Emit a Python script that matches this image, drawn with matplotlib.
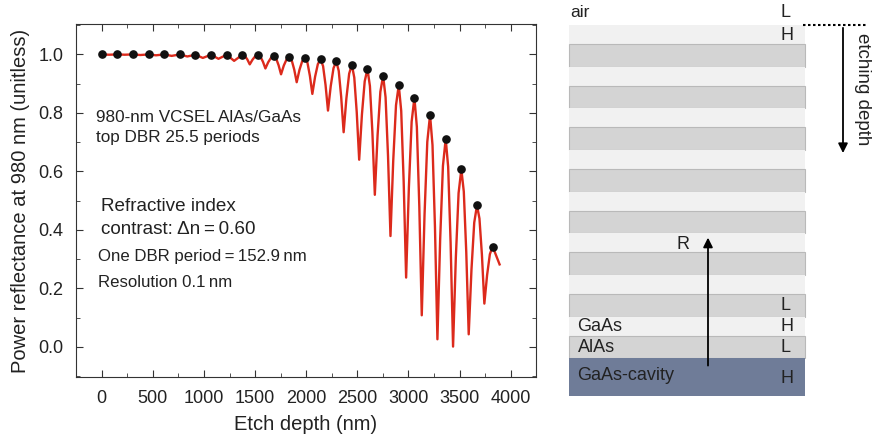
import matplotlib
matplotlib.use('Agg')
import matplotlib.pyplot as plt
from matplotlib.patches import Rectangle
from matplotlib.ticker import MultipleLocator, FormatStrFormatter

plt.rcParams['font.family'] = ['Liberation Sans', 'DejaVu Sans']

# reflectance after each whole DBR period etched (black dots)
period_depth = [0, 153, 306, 459, 612, 765, 917, 1070, 1223, 1376, 1529, 1682, 1835,
                1988, 2141, 2294, 2446, 2599, 2752, 2905, 3058, 3211, 3364, 3517, 3670, 3823]
period_refl = [1.000, 1.000, 1.000, 1.000, 1.000, 1.000, 0.999, 0.999, 0.999, 0.999,
               0.998, 0.994, 0.991, 0.988, 0.983, 0.976, 0.965, 0.950, 0.927, 0.895,
               0.852, 0.793, 0.711, 0.607, 0.484, 0.343]

# full reflectance trace vs etch depth (red line)
curve_depth = [0, 72, 153, 225, 306, 378, 459, 531, 612, 684, 765, 837, 917, 989, 1070,
               1142, 1223, 1295, 1376,
               1400, 1424, 1448, 1475, 1502, 1529,
               1553, 1577, 1601, 1628, 1655, 1682,
               1706, 1730, 1754, 1781, 1808, 1835,
               1859, 1883, 1907, 1934, 1961, 1988,
               2012, 2036, 2060, 2087, 2114, 2141,
               2165, 2189, 2213, 2240, 2267, 2294,
               2318, 2342, 2366, 2393, 2420, 2446,
               2470, 2494, 2518, 2545, 2572, 2599,
               2623, 2647, 2671, 2698, 2725, 2752,
               2776, 2800, 2824, 2851, 2878, 2905,
               2929, 2953, 2977, 3004, 3031, 3058,
               3082, 3106, 3130, 3157, 3184, 3211,
               3235, 3259, 3283, 3310, 3337, 3364,
               3388, 3412, 3436, 3463, 3490, 3517,
               3541, 3565, 3589, 3616, 3643, 3670,
               3694, 3718, 3742, 3769, 3796, 3823,
               3891]
curve_refl = [1.000, 0.999, 1.000, 0.999, 1.000, 0.998, 1.000, 0.997, 1.000, 0.995,
              1.000, 0.993, 0.999, 0.988, 0.999, 0.985, 0.999, 0.978, 0.999,
              0.995, 0.983, 0.966, 0.982, 0.994, 0.998,
              0.992, 0.975, 0.952, 0.973, 0.988, 0.994,
              0.986, 0.963, 0.932, 0.962, 0.983, 0.991,
              0.979, 0.948, 0.905, 0.947, 0.977, 0.988,
              0.972, 0.927, 0.865, 0.924, 0.967, 0.983,
              0.960, 0.896, 0.808, 0.892, 0.953, 0.976,
              0.944, 0.855, 0.734, 0.850, 0.934, 0.965,
              0.921, 0.803, 0.640, 0.795, 0.908, 0.950,
              0.892, 0.735, 0.520, 0.724, 0.872, 0.927,
              0.854, 0.653, 0.379, 0.637, 0.826, 0.895,
              0.807, 0.566, 0.237, 0.545, 0.770, 0.852,
              0.752, 0.480, 0.108, 0.451, 0.701, 0.793,
              0.690, 0.410, 0.026, 0.369, 0.619, 0.711,
              0.616, 0.356, 0.001, 0.304, 0.526, 0.607,
              0.531, 0.325, 0.043, 0.264, 0.425, 0.484,
              0.439, 0.316, 0.148, 0.246, 0.317, 0.343,
              0.282]

# layer stack for the schematic (nm), top to bottom
n_periods = 8
gaas_nm = 69.6
alas_nm = 83.3
cavity_nm = 140

fig = plt.figure(figsize=(8.75, 4.4), dpi=100)

ax = fig.add_axes([76 / 875, 1 - 377 / 440, (536 - 76) / 875, (377 - 24.3) / 440])
ax.plot(curve_depth, curve_refl, '-', color='#dc2a1c', lw=1.7, zorder=2)
ax.plot(period_depth, period_refl, 'o', color='#111111', ms=5.2, zorder=3)
ax.set_xlim(-251, 4247)
ax.set_ylim(-0.103, 1.103)
ax.xaxis.set_major_locator(MultipleLocator(500))
ax.xaxis.set_minor_locator(MultipleLocator(250))
ax.yaxis.set_major_locator(MultipleLocator(0.2))
ax.yaxis.set_minor_locator(MultipleLocator(0.1))
ax.yaxis.set_major_formatter(FormatStrFormatter('%.1f'))
ax.tick_params(which='both', direction='in', top=True, right=True, color='#333333',
               labelsize=13, labelcolor='#222222')
ax.tick_params(which='major', length=5)
ax.tick_params(which='minor', length=3)
ax.tick_params(axis='y', pad=9)
ax.tick_params(axis='x', pad=9)
for s in ax.spines.values():
    s.set_color('#333333')
ax.set_xlabel('Etch depth (nm)', fontsize=14.5, color='#222222', labelpad=6)
ax.set_ylabel('Power reflectance at 980 nm (unitless)', fontsize=14.5, color='#222222', labelpad=6)

ax.text(-59, 0.786, '980-nm VCSEL AlAs/GaAs', fontsize=12.3, va='center', color='#222222')
ax.text(-59, 0.715, 'top DBR 25.5 periods', fontsize=12.3, va='center', color='#222222')
ax.text(-10, 0.480, 'Refractive index', fontsize=13.6, va='center', color='#222222')
ax.text(-10, 0.401, 'contrast: \u0394n\u2009=\u20090.60', fontsize=13.6, va='center', color='#222222')
ax.text(-39, 0.309, 'One DBR period\u2009=\u2009152.9\u2009nm', fontsize=12.1, va='center', color='#222222')
ax.text(-39, 0.221, 'Resolution 0.1\u2009nm', fontsize=12.1, va='center', color='#222222')

# schematic of the DBR stack
sx = fig.add_axes([560 / 875, 0, 315 / 875, 1])
sx.set_xlim(0, 315)
sx.set_ylim(1523, -92)
sx.axis('off')

x0, x1 = 9.3, 245
top = 0
for i in range(n_periods):
    sx.add_patch(Rectangle((x0, top), x1 - x0, gaas_nm, facecolor='#f1f1f1', edgecolor='none'))
    top += gaas_nm
    sx.add_patch(Rectangle((x0, top), x1 - x0, alas_nm, facecolor='#d4d4d4',
                           edgecolor='#b9b9b9', lw=0.8))
    top += alas_nm
sx.add_patch(Rectangle((x0, top), x1 - x0, cavity_nm, facecolor='#6f7c98', edgecolor='none'))

tc = '#222222'
sx.text(10, -46, 'air', fontsize=12.5, va='center', color=tc)
sx.text(221, -46, 'L', fontsize=13, va='center', color=tc)
sx.text(221, 37, 'H', fontsize=13, va='center', color=tc)
sx.text(221, 1028, 'L', fontsize=13, va='center', color=tc)
sx.text(17, 1105, 'GaAs', fontsize=13, va='center', color=tc)
sx.text(221, 1105, 'H', fontsize=13, va='center', color=tc)
sx.text(18, 1182, 'AlAs', fontsize=13, va='center', color=tc)
sx.text(221, 1182, 'L', fontsize=13, va='center', color=tc)
sx.text(17, 1288, 'GaAs-cavity', fontsize=13, va='center', color=tc)
sx.text(221, 1299, 'H', fontsize=13, va='center', color=tc)
sx.text(123, 804, 'R', fontsize=13, va='center', ha='center', color=tc)

sx.annotate('', xy=(148, 770), xytext=(148, 1260),
            arrowprops=dict(arrowstyle='-|>', color='black', lw=1.3, mutation_scale=14))
sx.plot([243, 308], [0, 0], color='black', ls=(0, (1.2, 1.2)), lw=1.5)
sx.annotate('', xy=(283, 480), xytext=(283, 0),
            arrowprops=dict(arrowstyle='-|>', color='black', lw=1.3, mutation_scale=14))
sx.text(302, 235, 'etching depth', fontsize=13.5, rotation=270, va='center', ha='center', color=tc)

fig.savefig('out.png', dpi=100)
